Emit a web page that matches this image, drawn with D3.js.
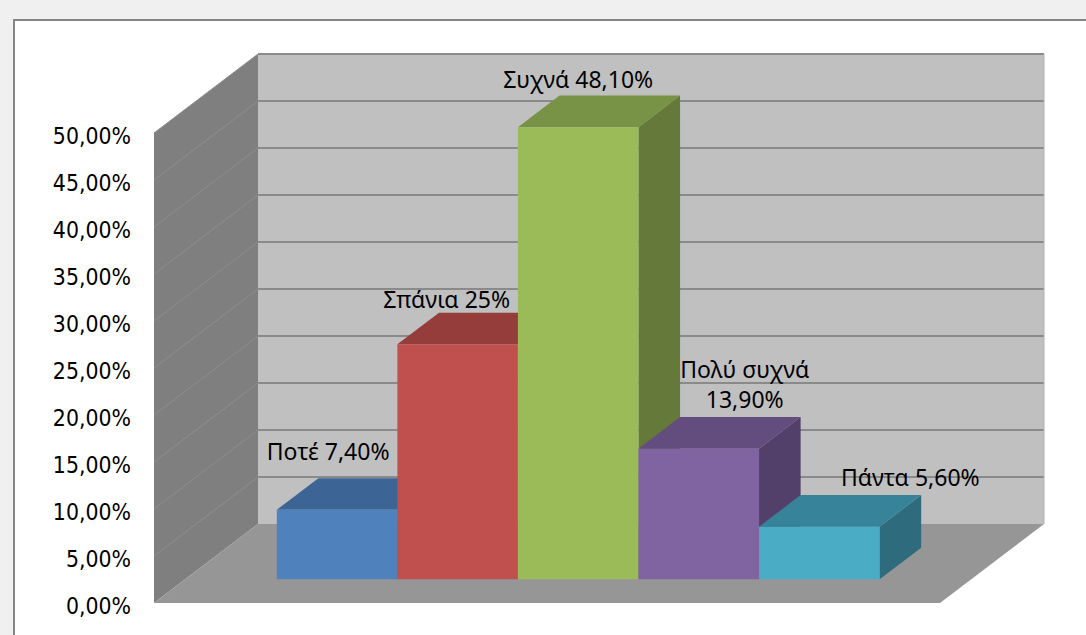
<!DOCTYPE html>
<html>
<head>
<meta charset="utf-8">
<script src="https://cdn.jsdelivr.net/npm/d3@7"></script>
<style>
  html, body { margin: 0; padding: 0; background: #f0f0f0; }
  svg { display: block; }
</style>
</head>
<body>
<svg id="chart" width="1086" height="635"></svg>
<script>
// Survey answers and their shares
const categories = ["Ποτέ", "Σπάνια", "Συχνά", "Πολύ συχνά", "Πάντα"];
const values = [0.074, 0.25, 0.481, 0.139, 0.056];
const valueLabels = ["7,40%", "25%", "48,10%", "13,90%", "5,60%"];
const yTicks = [0, 0.05, 0.10, 0.15, 0.20, 0.25, 0.30, 0.35, 0.40, 0.45, 0.50];

// Face colours per bar: front, top, side
const frontColors = ["#4f81bd", "#c0504d", "#9bbb59", "#8064a2", "#4bacc6"];
const topColors   = ["#3c6494", "#953d3b", "#789345", "#634d7e", "#37849a"];
const sideColors  = ["#30507a", "#7c3231", "#64793a", "#52406a", "#2e6c7d"];

const svg = d3.select("#chart");

// Page frame
svg.append("rect").attr("x", 0).attr("y", 0).attr("width", 1086).attr("height", 635).attr("fill", "#f0f0f0");
svg.append("rect").attr("x", 14).attr("y", 20).attr("width", 1100).attr("height", 640)
  .attr("fill", "#ffffff").attr("stroke", "#858585").attr("stroke-width", 2);

// Front plane scales; depth is a 0..1 fraction projected obliquely
const DX = 104, DY = -79;
const x = d3.scaleBand().domain(categories).range([154, 940]).paddingInner(0).paddingOuter(0.76);
const y = d3.scaleLinear().domain([0, 0.5]).range([603, 133]);
const P = (px, v, z) => [px + z * DX, y(v) + z * DY];
const poly = pts => "M" + pts.map(p => p.join(",")).join("L") + "Z";

const xL = x.range()[0], xR = x.range()[1];
const vMax = d3.max(yTicks);

// Back wall
svg.append("path")
  .attr("d", poly([P(xL, 0, 1), P(xR, 0, 1), P(xR, vMax, 1), P(xL, vMax, 1)]))
  .attr("fill", "#c0c0c0");
// Side wall
svg.append("path")
  .attr("d", poly([P(xL, 0, 0), P(xL, 0, 1), P(xL, vMax, 1), P(xL, vMax, 0)]))
  .attr("fill", "#7f7f7f");
// Floor
svg.append("path")
  .attr("d", poly([P(xL, 0, 0), P(xR, 0, 0), P(xR, 0, 1), P(xL, 0, 1)]))
  .attr("fill", "#969696");

// Gridlines on the back wall
svg.append("g").selectAll("line").data(yTicks.filter(t => t > 0)).join("line")
  .attr("x1", d => P(xL, d, 1)[0]).attr("y1", d => P(xL, d, 1)[1])
  .attr("x2", d => P(xR, d, 1)[0]).attr("y2", d => P(xR, d, 1)[1])
  .attr("stroke", "#8a8a8a").attr("stroke-width", 2.2);
// Gridlines across the side wall
svg.append("g").selectAll("line").data(yTicks.filter(t => t > 0)).join("line")
  .attr("x1", d => P(xL, d, 0)[0]).attr("y1", d => P(xL, d, 0)[1])
  .attr("x2", d => P(xL, d, 1)[0]).attr("y2", d => P(xL, d, 1)[1])
  .attr("stroke", "#8e8e8e").attr("stroke-width", 1);
// Right edge of back wall
svg.append("line")
  .attr("x1", P(xR, 0, 1)[0]).attr("y1", P(xR, 0, 1)[1])
  .attr("x2", P(xR, vMax, 1)[0]).attr("y2", P(xR, vMax, 1)[1])
  .attr("stroke", "#b0b0b0").attr("stroke-width", 1);

// Y axis labels
const fmt = d3.formatLocale({ decimal: ",", thousands: ".", grouping: [3], currency: ["", "€"] }).format(".2%");
svg.append("g").selectAll("text").data(yTicks).join("text")
  .attr("transform", d => `translate(131,${y(d) + 3}) scale(1,1.08)`)
  .attr("text-anchor", "end").attr("dominant-baseline", "central")
  .attr("font-family", "DejaVu Sans").attr("font-size", 20.5).attr("fill", "#000")
  .text(d => fmt(d));

// Bars, drawn left to right so each covers its neighbour's side face
const z0 = 0.3, z1 = 0.7;
const bars = svg.append("g");
categories.forEach((c, i) => {
  const a = x(c), b = a + x.bandwidth(), v = values[i];
  const g = bars.append("g");
  g.append("path").attr("d", poly([P(b, 0, z0), P(b, v, z0), P(b, v, z1), P(b, 0, z1)])).attr("fill", sideColors[i]);
  g.append("path").attr("d", poly([P(a, v, z0), P(b, v, z0), P(b, v, z1), P(a, v, z1)])).attr("fill", topColors[i]);
  g.append("path").attr("d", poly([P(a, 0, z0), P(b, 0, z0), P(b, v, z0), P(a, v, z0)])).attr("fill", frontColors[i]);
});

// Data labels, placed relative to each bar's top
const labelShift = [[-9, -50], [-11, -36], [0, -39], [46, -41], [91, -41]];
const labelLines = categories.map((c, i) =>
  c === "Πολύ συχνά" ? [c, valueLabels[i]] : [c + " " + valueLabels[i]]);
const labels = svg.append("g")
  .attr("font-family", "Noto Sans").attr("font-size", 23).attr("fill", "#000").attr("text-anchor", "middle");
categories.forEach((c, i) => {
  const cx = x(c) + x.bandwidth() / 2 + z0 * DX + labelShift[i][0];
  const base = y(values[i]) + z0 * DY + labelShift[i][1];
  const lines = labelLines[i];
  lines.forEach((t, k) => {
    labels.append("text")
      .attr("x", cx).attr("y", base - (lines.length - 1 - k) * 30)
      .text(t);
  });
});
</script>
</body>
</html>
